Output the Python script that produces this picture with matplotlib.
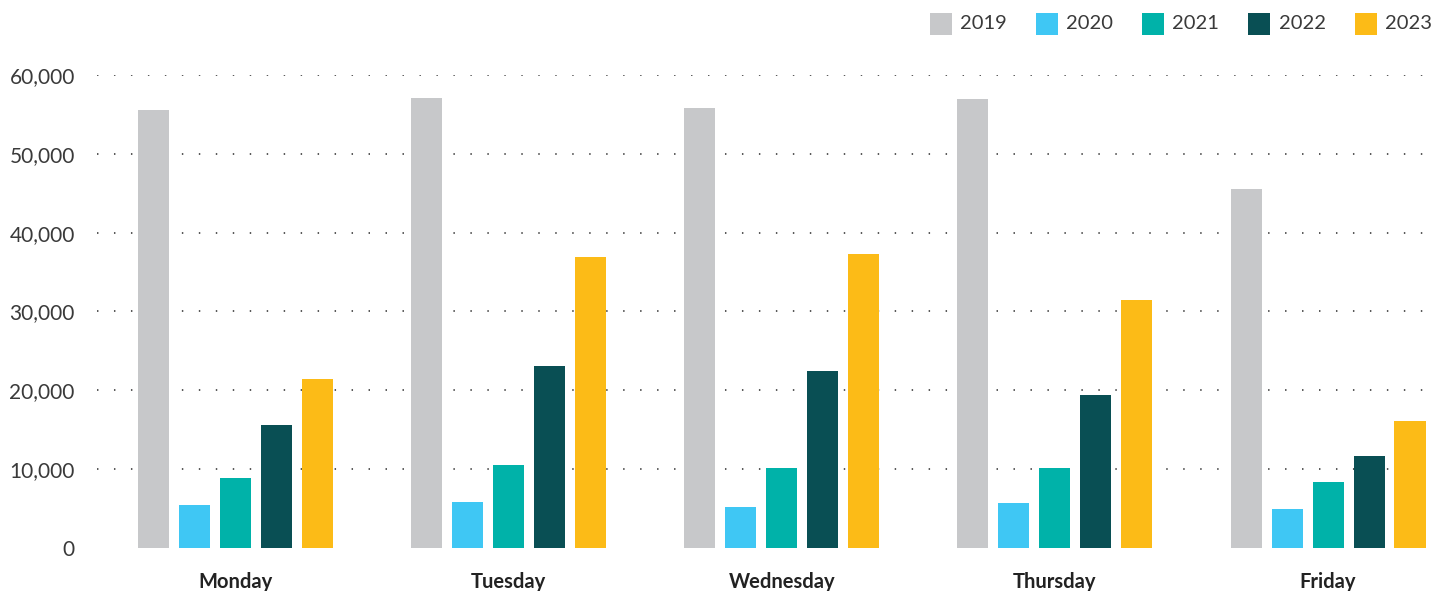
import numpy as np
import matplotlib
matplotlib.use("Agg")
import matplotlib.pyplot as plt
from matplotlib.ticker import FuncFormatter

days = ["Monday", "Tuesday", "Wednesday", "Thursday", "Friday"]
years = ["2019", "2020", "2021", "2022", "2023"]

y2019 = [55600, 57100, 55800, 56950, 45550]
y2020 = [5450, 5850, 5200, 5700, 4950]
y2021 = [8900, 10550, 10150, 10150, 8400]
y2022 = [15600, 23100, 22450, 19400, 11650]
y2023 = [21450, 36950, 37300, 31450, 16100]

colors = ["#C7C8CA", "#3FC7F4", "#00B2A9", "#094F54", "#FCBB17"]

plt.rcParams['font.family'] = ['Lato', 'DejaVu Sans']


def draw_chart(out):
    series = [y2019, y2020, y2021, y2022, y2023]

    fig = plt.figure(figsize=(14.35, 5.91), dpi=100)
    ax = fig.add_axes([0.0676, 0.0728, 0.9304, 0.8003])

    x = np.arange(len(days))
    width = 0.1136
    step = 0.150
    for i, (vals, yr, c) in enumerate(zip(series, years, colors)):
        ax.bar(x + (i - 2) * step, vals, width, color=c, label=yr, zorder=3)

    ax.set_xlim(-0.507, 4.381)
    ax.set_ylim(0, 60000)
    ax.set_yticks(range(0, 60001, 10000))
    ax.yaxis.set_major_formatter(FuncFormatter(lambda v, p: f"{int(v):,}"))
    ax.set_xticks(x)
    ax.set_xticklabels(days, fontsize=14.5, fontweight='bold', color='#222222')

    for t in range(10000, 60001, 10000):
        ax.axhline(t, color='#4a4a4a', linewidth=1.3,
                   linestyle=(0, (0.8, 8.6)), zorder=1)

    for s in ax.spines.values():
        s.set_visible(False)
    ax.tick_params(axis='y', length=0, pad=16, labelsize=15,
                   labelcolor='#3a3a3a')
    ax.tick_params(axis='x', length=0, pad=17)

    leg = ax.legend(ncol=5, loc='upper right', bbox_to_anchor=(1.006, 1.147),
                    frameon=False, fontsize=14.5, handlelength=1.0,
                    handleheight=1.0, handletextpad=0.5, columnspacing=1.45,
                    borderaxespad=0)
    for t in leg.get_texts():
        t.set_color('#3a3a3a')
    for h in leg.legend_handles:
        h.set_height(22 * 72 / 100)
        h.set_width(22 * 72 / 100)
        h.set_y(-4)

    fig.savefig(out, dpi=100)


def main():
    draw_chart("out.png")


if __name__ == "__main__":
    main()
